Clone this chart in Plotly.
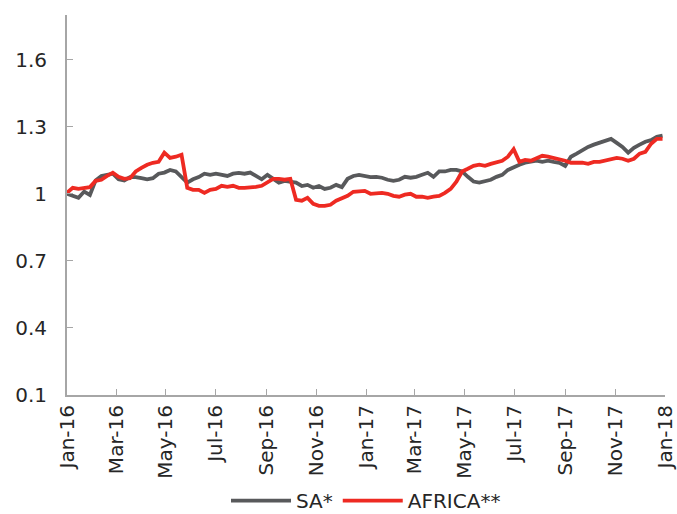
import pandas as pd
import plotly.graph_objects as go

dates = pd.date_range("2016-01-01", periods=105, freq="7D")

sa = [1.00, 0.99, 0.982, 1.01, 0.995, 1.06, 1.08, 1.085, 1.09, 1.065,
      1.06, 1.075, 1.075, 1.07, 1.065, 1.07, 1.09, 1.095, 1.107, 1.10,
      1.075, 1.05, 1.065, 1.075, 1.09, 1.085, 1.09, 1.085, 1.08, 1.09,
      1.094, 1.09, 1.095, 1.08, 1.065, 1.085, 1.065, 1.05, 1.058, 1.055,
      1.05, 1.035, 1.04, 1.027, 1.035, 1.022, 1.027, 1.04, 1.03, 1.067,
      1.08, 1.085, 1.08, 1.075, 1.076, 1.072, 1.063, 1.058, 1.063, 1.076,
      1.072, 1.076, 1.085, 1.094, 1.076, 1.10, 1.10, 1.107, 1.107, 1.10,
      1.076, 1.055, 1.05, 1.055, 1.063, 1.076, 1.085, 1.107, 1.12, 1.13,
      1.139, 1.143, 1.148, 1.143, 1.148, 1.143, 1.139, 1.125, 1.166, 1.18,
      1.197, 1.21, 1.22, 1.228, 1.237, 1.246, 1.228, 1.21, 1.184, 1.206,
      1.22, 1.233, 1.24, 1.255, 1.26]

africa = [1.005, 1.027, 1.022, 1.027, 1.03, 1.058, 1.063, 1.08, 1.094, 1.076,
          1.067, 1.07, 1.10, 1.116, 1.13, 1.139, 1.143, 1.184, 1.161, 1.166,
          1.175, 1.027, 1.018, 1.018, 1.004, 1.018, 1.022, 1.036, 1.031, 1.036,
          1.027, 1.027, 1.027, 1.031, 1.036, 1.054, 1.067, 1.067, 1.063, 1.067,
          0.973, 0.969, 0.982, 0.955, 0.946, 0.946, 0.951, 0.969, 0.978, 0.991,
          1.009, 1.009, 1.013, 1.0, 1.004, 1.004, 1.0, 0.991, 0.987, 0.996,
          1.0, 0.987, 0.987, 0.982, 0.987, 0.991, 1.004, 1.022, 1.054, 1.10,
          1.112, 1.125, 1.13, 1.125, 1.134, 1.139, 1.148, 1.166, 1.20, 1.143,
          1.152, 1.148, 1.161, 1.17, 1.166, 1.161, 1.152, 1.148, 1.139, 1.139,
          1.139, 1.134, 1.143, 1.143, 1.148, 1.152, 1.161, 1.157, 1.148, 1.157,
          1.18, 1.188, 1.224, 1.246, 1.246]

tick_dates = pd.date_range("2016-01-01", "2018-01-01", freq="2MS")
tick_labels = [d.strftime("%b-%y") for d in tick_dates]
y_ticks = [0.1, 0.4, 0.7, 1.0, 1.3, 1.6]
y_labels = ["0.1", "0.4", "0.7", "1", "1.3", "1.6"]

FONT = "'DejaVu Sans', Verdana, sans-serif"

fig = go.Figure()
fig.add_trace(go.Scatter(x=dates, y=sa, mode="lines", name="SA*",
                         line=dict(color="#58595b", width=3.8)))
fig.add_trace(go.Scatter(x=dates, y=africa, mode="lines", name="AFRICA**",
                         line=dict(color="#ee2a22", width=3.8)))

fig.update_layout(
    width=677, height=514,
    margin=dict(l=67, r=12, t=15, b=119, autoexpand=False),
    paper_bgcolor="white", plot_bgcolor="white",
    font=dict(family=FONT, size=20, color="#262626"),
    showlegend=True,
    legend=dict(orientation="h", x=0.5, xanchor="center",
                yref="paper", y=-0.278, yanchor="middle",
                bgcolor="rgba(0,0,0,0)",
                font=dict(size=20), itemwidth=60,
                tracegroupgap=0),
    xaxis=dict(range=["2016-01-01", "2018-01-01"], tickvals=tick_dates,
               ticktext=tick_labels, tickangle=-90, showgrid=False,
               showline=True, linecolor="#a6a6a6", linewidth=2,
               ticks="inside", ticklen=6, tickcolor="#a6a6a6", zeroline=False,
               tickfont=dict(size=20), automargin=False),
    yaxis=dict(range=[0.1, 1.8], tickvals=y_ticks, ticktext=y_labels,
               showgrid=False, showline=True, linecolor="#a6a6a6", linewidth=2,
               ticks="inside", ticklen=6, tickcolor="#a6a6a6", zeroline=False,
               ticklabelstandoff=14, automargin=False),
)

fig.write_html("out.html",
               config={"displayModeBar": False},
               post_script="document.body.style.margin='0';document.body.style.overflow='hidden';")
